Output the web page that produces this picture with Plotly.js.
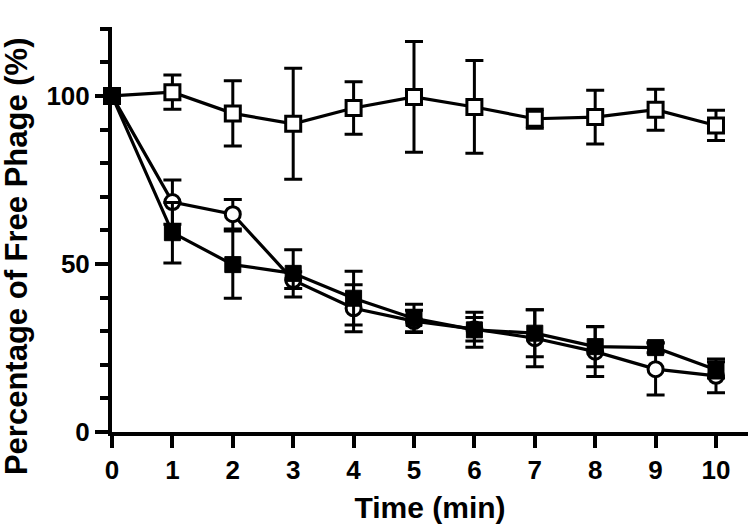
<!DOCTYPE html>
<html>
<head>
<meta charset="utf-8">
<script src="https://cdn.plot.ly/plotly-3.0.1.min.js"></script>
<style>html,body{margin:0;padding:0;background:#fff;}#chart{width:750px;height:526px;}</style>
</head>
<body>
<div id="chart"></div>
<script>
const timeMin = [0, 1, 2, 3, 4, 5, 6, 7, 8, 9, 10];

const openSquareY   = [100, 101.1, 94.8, 91.7, 96.4, 99.7, 96.7, 93.2, 93.7, 95.9, 91.2];
const openSquareErr = [0, 5.1, 9.7, 16.5, 7.8, 16.5, 13.8, 2.8, 8.0, 6.1, 4.5];

const openCircleY   = [100, 68.4, 64.8, 45.2, 36.8, 33.0, 30.6, 27.9, 23.9, 18.7, 16.7];
const openCircleErr = [0, 6.6, 4.4, 2.5, 7.0, 3.2, 3.5, 8.5, 7.4, 7.7, 5.0];

const filledSquareY   = [100, 59.3, 49.8, 47.2, 39.8, 33.8, 30.4, 29.4, 25.4, 25.1, 18.5];
const filledSquareErr = [0, 9.0, 10.0, 7.0, 8.0, 4.2, 5.2, 7.0, 6.0, 1.5, 2.4];

const xTicks = [0, 1, 2, 3, 4, 5, 6, 7, 8, 9, 10];
const yTicks = [0, 50, 100];

const FONT = "Liberation Sans, Arial, Helvetica, sans-serif";

function errObj(arr) {
  return {type: 'data', array: arr, visible: true, color: '#000', thickness: 3, width: 9};
}

const traces = [
  {
    x: timeMin, y: openSquareY, error_y: errObj(openSquareErr),
    mode: 'lines+markers', type: 'scatter', cliponaxis: false,
    line: {color: '#000', width: 3.2},
    marker: {symbol: 'square', size: 15, color: '#fff', line: {color: '#000', width: 3}},
    name: 'A'
  },
  {
    x: timeMin, y: openCircleY, error_y: errObj(openCircleErr),
    mode: 'lines+markers', type: 'scatter', cliponaxis: false,
    line: {color: '#000', width: 3.2},
    marker: {symbol: 'circle', size: 15, color: '#fff', line: {color: '#000', width: 3}},
    name: 'B'
  },
  {
    x: timeMin, y: filledSquareY, error_y: errObj(filledSquareErr),
    mode: 'lines+markers', type: 'scatter', cliponaxis: false,
    line: {color: '#000', width: 3.2},
    marker: {symbol: 'square', size: 16, color: '#000', line: {color: '#000', width: 1}},
    name: 'C'
  }
];

const layout = {
  width: 750, height: 526,
  margin: {l: 112, r: 2, t: 27, b: 94, pad: 0},
  paper_bgcolor: '#fff', plot_bgcolor: '#fff',
  showlegend: false,
  font: {family: FONT, color: '#000'},
  xaxis: {
    range: [0, 10.53], tickvals: xTicks, ticktext: xTicks.map(String),
    showgrid: false, zeroline: false,
    showline: true, linecolor: '#000', linewidth: 4,
    ticks: 'outside', ticklen: 12, tickwidth: 4, tickcolor: '#000',
    tickfont: {family: FONT, size: 26, weight: 700, color: '#000'},
    title: {text: 'Time (min)', font: {family: FONT, size: 30, weight: 700, color: '#000'}, standoff: 14}
  },
  yaxis: {
    range: [0, 120.5], tickvals: yTicks, ticktext: yTicks.map(String),
    showgrid: false, zeroline: false,
    showline: true, linecolor: '#000', linewidth: 4,
    ticks: 'outside', ticklen: 13, tickwidth: 4, tickcolor: '#000',
    tickfont: {family: FONT, size: 26, weight: 700, color: '#000'},
    minor: {dtick: 10, tick0: 0, ticks: 'outside', ticklen: 8, tickwidth: 4, tickcolor: '#000', showgrid: false}
  },
  annotations: [{
    text: 'Percentage of Free Phage (%)',
    xref: 'paper', yref: 'paper', x: -0.149, y: 0.435,
    xanchor: 'center', yanchor: 'middle', textangle: -90, showarrow: false,
    font: {family: FONT, size: 31, weight: 700, color: '#000'}
  }]
};

Plotly.newPlot('chart', traces, layout, {displayModeBar: false, staticPlot: true});
</script>
</body>
</html>
